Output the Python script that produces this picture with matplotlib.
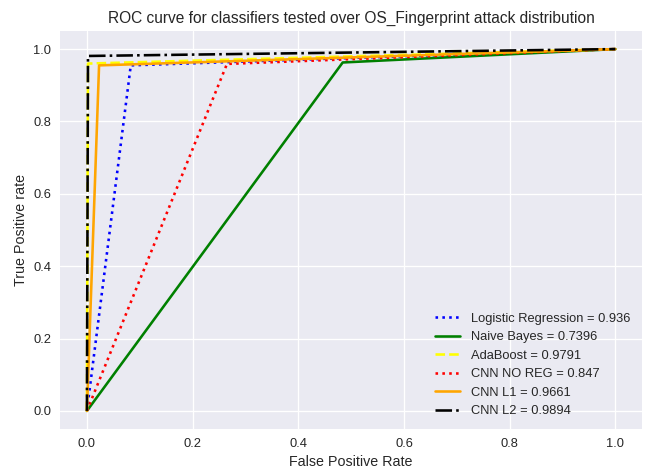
import matplotlib
matplotlib.use("Agg")
import matplotlib.pyplot as plt

plt.style.use("seaborn-v0_8")

labels = ["Logistic Regression = 0.936", "Naive Bayes = 0.7396", "AdaBoost = 0.9791",
          "CNN NO REG = 0.847", "CNN L1 = 0.9661", "CNN L2 = 0.9894"]
fpr = [[0.0, 0.083, 1.0], [0.0, 0.484, 1.0], [0.0, 0.002, 1.0],
       [0.0, 0.265, 1.0], [0.0, 0.023, 1.0], [0.0, 0.002, 1.0]]
tpr = [[0.0, 0.955, 1.0], [0.0, 0.963, 1.0], [0.0, 0.960, 1.0],
       [0.0, 0.959, 1.0], [0.0, 0.955, 1.0], [0.0, 0.981, 1.0]]
colors = ["blue", "green", "yellow", "red", "orange", "black"]
styles = [":", "-", "--", ":", "-", "-."]

DPI = 93
fig = plt.figure(figsize=(647 / DPI, 469 / DPI), dpi=DPI)
ax = fig.add_axes([0.0935, 0.0853, 0.8985, 0.8486])
for f, t, c, s, l in zip(fpr, tpr, colors, styles, labels):
    ax.plot(f, t, color=c, linestyle=s, label=l, linewidth=2)
ax.set_title("ROC curve for classifiers tested over OS_Fingerprint attack distribution", fontsize=12)
ax.set_xlabel("False Positive Rate", fontsize=11)
ax.set_ylabel("True Positive rate", fontsize=11)
ax.legend(loc="lower right", fontsize=10)
fig.savefig("out.png", dpi=DPI)
